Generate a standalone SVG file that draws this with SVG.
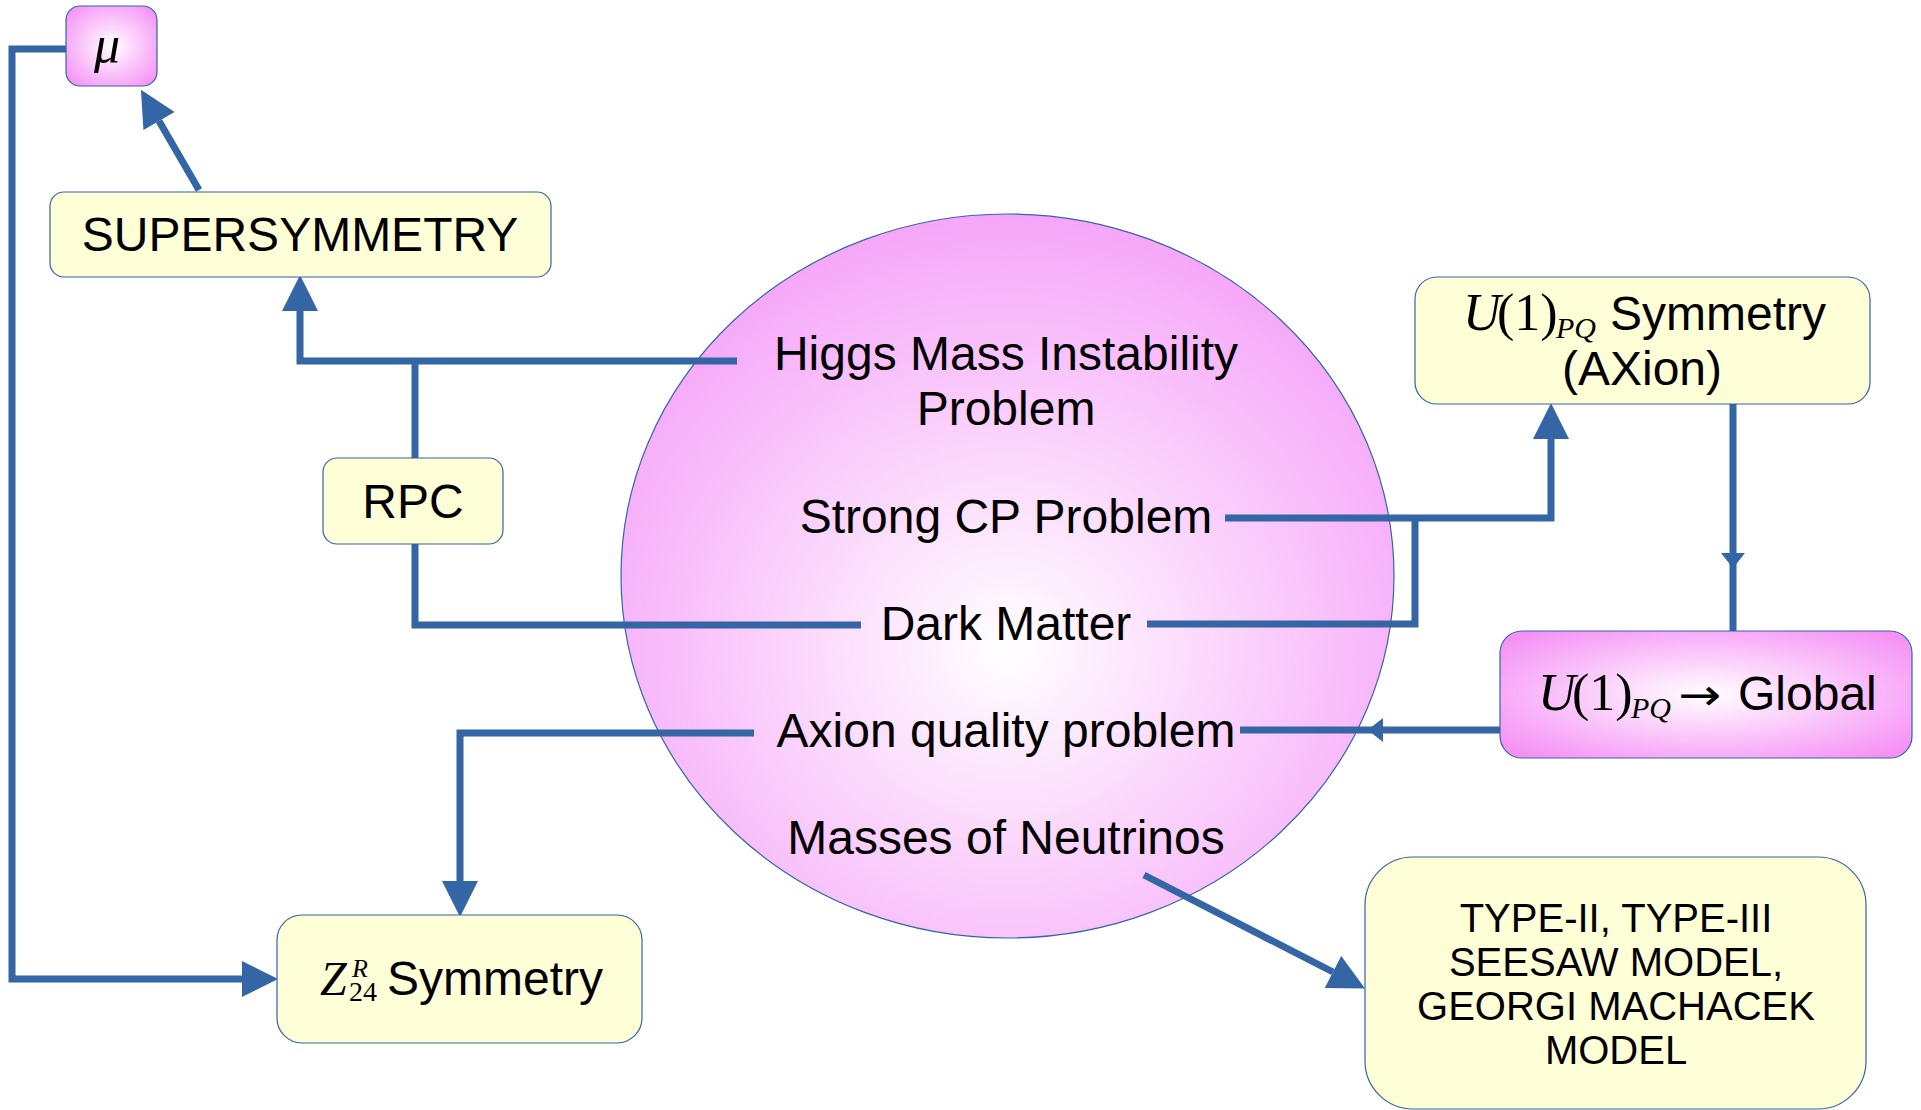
<svg xmlns="http://www.w3.org/2000/svg" width="1921" height="1110" viewBox="0 0 1921 1110">
<defs>
<radialGradient id="pinkBox" cx="50%" cy="50%" r="65%">
<stop offset="0%" stop-color="#ffffff"/>
<stop offset="100%" stop-color="#f590f5"/>
</radialGradient>
<radialGradient id="pinkEll" cx="50%" cy="60%" r="64%">
<stop offset="0%" stop-color="#ffffff"/>
<stop offset="100%" stop-color="#f5a0f8"/>
</radialGradient>
<marker id="arr" markerUnits="userSpaceOnUse" markerWidth="36" markerHeight="36" refX="0" refY="17" orient="auto" viewBox="0 0 34 34" overflow="visible">
<path d="M0,0 L34,17 L0,34 z" fill="#3465a4"/>
</marker>
<marker id="arrS" markerUnits="userSpaceOnUse" markerWidth="16" markerHeight="24" refX="0" refY="11" orient="auto" viewBox="0 0 14 22" overflow="visible">
<path d="M0,0 L14,11 L0,22 z" fill="#3465a4"/>
</marker>
</defs>
<style>
.box{fill:#ffffd7;stroke:#3465a4;stroke-width:1.2}
.pbox{fill:url(#pinkBox);stroke:#3465a4;stroke-width:1.2}
.t{font-family:"Liberation Sans",Arial,sans-serif;font-size:48px;fill:#000}
.s{font-family:"Liberation Sans",Arial,sans-serif;font-size:40px;fill:#000}
.m{font-family:"Liberation Serif","Times New Roman",serif;fill:#000}
.c{fill:none;stroke:#3465a4;stroke-width:7}
</style>
<rect width="1921" height="1110" fill="#ffffff"/>

<g id="problems">
<ellipse cx="1007.5" cy="576" rx="386.5" ry="362" fill="url(#pinkEll)" stroke="#3465a4" stroke-width="1.2"/>
<text class="t" x="1006" y="370" text-anchor="middle">Higgs Mass Instability</text>
<text class="t" x="1006" y="425" text-anchor="middle">Problem</text>
<text class="t" x="1006" y="533" text-anchor="middle">Strong CP Problem</text>
<text class="t" x="1006" y="640" text-anchor="middle">Dark Matter</text>
<text class="t" x="1006" y="747" text-anchor="middle">Axion quality problem</text>
<text class="t" x="1006" y="854" text-anchor="middle">Masses of Neutrinos</text>
</g>

<g id="connectors">
<path class="c" d="M737,361 H300 V311" marker-end="url(#arr)"/>
<path class="c" d="M415,361 V458"/>
<path class="c" d="M415,544 V625 H861"/>
<path class="c" d="M199,190 L159,121" marker-end="url(#arr)"/>
<path class="c" d="M66,49 H12 V979 H242" marker-end="url(#arr)"/>
<path class="c" d="M754,733 H460 V881" marker-end="url(#arr)"/>
<path class="c" d="M1225,518 H1551 V439" marker-end="url(#arr)"/>
<path class="c" d="M1147,624 H1415 V518"/>
<path class="c" d="M1733,404 L1733,553 L1733,631" marker-mid="url(#arrS)"/>
<path class="c" d="M1500,730 L1383,730 L1240,730" marker-mid="url(#arrS)"/>
<path class="c" d="M1144,875 L1333,972" marker-end="url(#arr)"/>
</g>

<g id="mu">
<rect class="pbox" x="66" y="6" width="91" height="80" rx="14"/>
<text class="m" x="107" y="62" font-size="52" font-style="italic" text-anchor="middle">μ</text>
</g>

<g id="supersymmetry">
<rect class="box" x="50" y="192" width="501" height="85" rx="14"/>
<text class="t" x="300" y="251" text-anchor="middle">SUPERSYMMETRY</text>
</g>

<g id="rpc">
<rect class="box" x="323" y="458" width="180" height="86" rx="14"/>
<text class="t" x="413" y="518" text-anchor="middle">RPC</text>
</g>

<g id="z24">
<rect class="box" x="277" y="915" width="365" height="128" rx="25"/>
<text class="m" x="320" y="995" font-size="48" font-style="italic">Z</text>
<text class="m" x="352" y="977" font-size="26" font-style="italic">R</text>
<text class="m" x="349" y="1001" font-size="28">24</text>
<text class="t" x="387" y="995">Symmetry</text>
</g>

<g id="u1pq">
<rect class="box" x="1415" y="277" width="455" height="127" rx="22"/>
<text class="m" x="1463" y="330" font-size="52" font-style="italic">U</text>
<text class="m" x="1497" y="330" font-size="52">(1)</text>
<text class="m" x="1556" y="338" font-size="30" font-style="italic">PQ</text>
<text class="t" x="1610" y="330">Symmetry</text>
<text class="t" x="1642" y="385" text-anchor="middle">(AXion)</text>
</g>

<g id="global">
<rect class="pbox" x="1500" y="631" width="412" height="127" rx="22"/>
<text class="m" x="1538" y="710" font-size="52" font-style="italic">U</text>
<text class="m" x="1572" y="710" font-size="52">(1)</text>
<text class="m" x="1631" y="718" font-size="30" font-style="italic">PQ</text>
<text x="1678" y="710" font-family="'DejaVu Sans',sans-serif" font-size="44" fill="#000" textLength="43" lengthAdjust="spacingAndGlyphs">→</text>
<text class="t" x="1738" y="710">Global</text>
</g>

<g id="seesaw">
<rect class="box" x="1365" y="857" width="501" height="252" rx="48"/>
<text class="s" x="1616" y="932" text-anchor="middle">TYPE-II, TYPE-III</text>
<text class="s" x="1616" y="976" text-anchor="middle">SEESAW MODEL,</text>
<text class="s" x="1616" y="1020" text-anchor="middle">GEORGI MACHACEK</text>
<text class="s" x="1616" y="1064" text-anchor="middle">MODEL</text>
</g>
</svg>
